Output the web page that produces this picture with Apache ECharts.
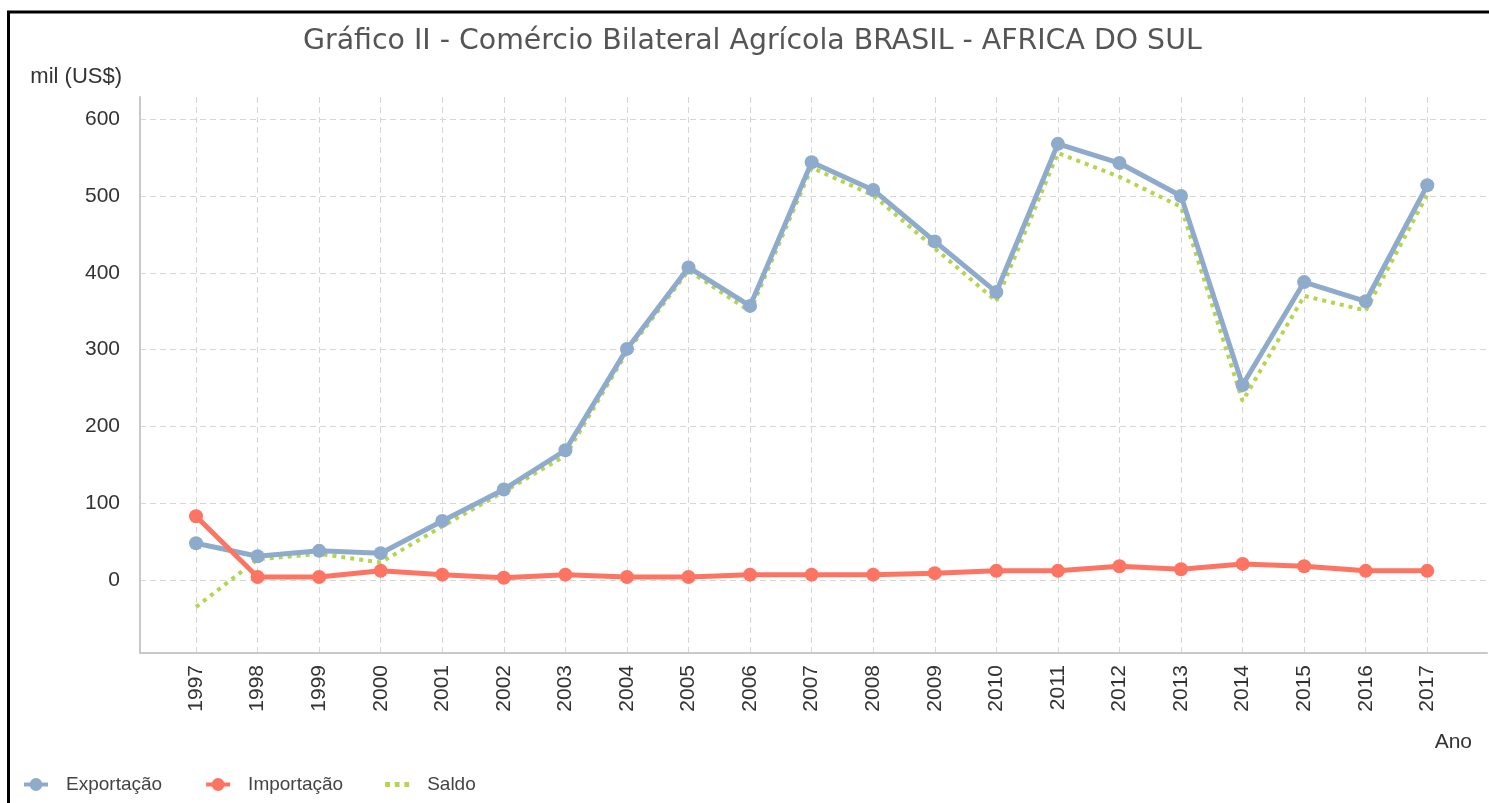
<!DOCTYPE html>
<html>
<head>
<meta charset="utf-8">
<script src="https://cdn.jsdelivr.net/npm/echarts@6/dist/echarts.min.js"></script>
<style>html,body{margin:0;padding:0;background:#fff;}#c{width:1489px;height:803px;}</style>
</head>
<body>
<div id="c"></div>
<script>
const years = [1997,1998,1999,2000,2001,2002,2003,2004,2005,2006,2007,2008,2009,2010,2011,2012,2013,2014,2015,2016,2017];
const exportacao = [48,31,38,35,77,118,169,301,407,357,544,508,441,375,568,543,500,254,388,363,514];
const importacao = [83,4,4,12,7,3,7,4,4,7,7,7,9,12,12,18,14,21,18,12,12];
const saldo = [-35,27,34,23,70,115,162,297,403,350,537,501,432,363,556,525,486,233,370,351,502];
const yTicks = [0,100,200,300,400,500,600];

const pair = arr => years.map((y,i)=>[y,arr[i]]);
const font = '"Liberation Sans", Arial, sans-serif';
const chart = echarts.init(document.getElementById('c'), null, {renderer:'canvas'});
chart.setOption({
  animation:false,
  backgroundColor:'#fff',
  title:{text:'Gráfico II - Comércio Bilateral Agrícola BRASIL - AFRICA DO SUL', left:298, top:23,
    textStyle:{fontFamily:'"DejaVu Sans", Verdana, sans-serif', fontSize:28.4, fontWeight:'normal', color:'#555'}},
  graphic:[{type:'rect', shape:{x:8.5,y:12,width:1600,height:900}, style:{fill:'none', stroke:'#000', lineWidth:3}, silent:true}],
  legend:{left:17, top:770, itemWidth:24, itemHeight:16, itemGap:42,
    lineStyle:{width:4},
    textStyle:{fontFamily:font, fontSize:19, color:'#444', padding:[0,0,0,13]},
    data:[{name:'Exportação'},{name:'Importação'},
      {name:'Saldo', icon:'path://M0,0h4v4h-4zM8,0h4v4h-4zM16,0h4v4h-4z', itemStyle:{color:'#b4d64a'}}]},
  grid:{left:140, right:2, top:97, bottom:150, containLabel:false},
  xAxis:{type:'value', min:1996.09, max:2017.97, minInterval:1, maxInterval:1,
    name:'Ano', nameLocation:'end', nameGap:-15,
    nameTextStyle:{fontFamily:font, fontSize:21, color:'#333', align:'right', verticalAlign:'top', padding:[79,0,0,0]},
    axisLine:{show:true, onZero:false, lineStyle:{color:'#c8c8c8', width:2}},
    axisTick:{show:false},
    axisLabel:{rotate:90, margin:12, fontFamily:font, fontSize:21, color:'#333', showMinLabel:false, showMaxLabel:false,
      formatter:v=> years.includes(Math.round(v)) && Math.abs(v-Math.round(v))<1e-6 ? String(Math.round(v)) : ''},
    splitLine:{show:true, showMinLine:false, showMaxLine:false, lineStyle:{color:'#d6d6d6', type:[6,4], width:1}}},
  yAxis:{type:'value', min:-95, max:629, minInterval:100, maxInterval:100,
    name:'mil (US$)', nameLocation:'end', nameGap:9,
    nameTextStyle:{fontFamily:font, fontSize:22, color:'#333', align:'right', verticalAlign:'bottom', padding:[0,18,0,0]},
    axisLine:{show:true, lineStyle:{color:'#c8c8c8', width:2}},
    axisTick:{show:false},
    axisLabel:{margin:20, fontFamily:font, fontSize:21, color:'#333', showMinLabel:false, showMaxLabel:false,
      formatter:v=> yTicks.includes(v) ? String(v) : ''},
    splitLine:{show:true, showMinLine:false, showMaxLine:false, lineStyle:{color:'#d6d6d6', type:[6,4], width:1}}},
  series:[
    {name:'Exportação', type:'line', data:pair(exportacao), symbol:'circle', symbolSize:14,
      lineStyle:{color:'#8eabcc', width:5}, itemStyle:{color:'#8eabcc'}, z:3},
    {name:'Importação', type:'line', data:pair(importacao), symbol:'circle', symbolSize:14,
      lineStyle:{color:'#fd7462', width:5}, itemStyle:{color:'#fd7462'}, z:4},
    {name:'Saldo', type:'line', data:pair(saldo), symbol:'none',
      lineStyle:{color:'#b4d64a', width:4, type:[4,5]}, itemStyle:{color:'#b4d64a'}, z:2}
  ]
});
</script>
</body>
</html>
